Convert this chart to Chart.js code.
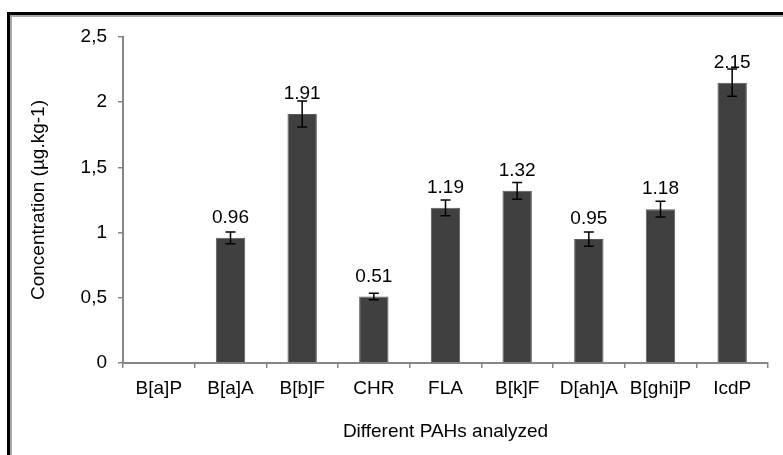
<!DOCTYPE html>
<html>
<head>
<meta charset="utf-8">
<script src="https://cdn.jsdelivr.net/npm/chart.js@4/dist/chart.umd.min.js"></script>
<style>
  html, body { margin: 0; padding: 0; background: #fff; overflow: hidden; }
  #wrap { position: relative; width: 783px; height: 455px; }
  /* cadre noir + gris, ouvert à droite et en bas */
  #frame {
    position: absolute; left: 7px; top: 12px; width: 900px; height: 600px;
    border-left: 3px solid #000; border-top: 3px solid #000;
  }
  #frame div {
    width: 100%; height: 100%;
    border-left: 2px solid #a8a8a8; border-top: 2px solid #a8a8a8;
  }
  canvas { position: absolute; left: 0; top: 0; }
</style>
</head>
<body>
<div id="wrap">
  <div id="frame"><div></div></div>
  <canvas id="myChart" width="783" height="455"></canvas>
</div>
<script>
// données
const categories = ["B[a]P", "B[a]A", "B[b]F", "CHR", "FLA", "B[k]F", "D[ah]A", "B[ghi]P", "IcdP"];
const concentrations = [0, 0.96, 1.91, 0.51, 1.19, 1.32, 0.95, 1.18, 2.15];
const errors = [0, 0.045, 0.1, 0.025, 0.06, 0.065, 0.055, 0.06, 0.105];
const valueLabels = ["", "0.96", "1.91", "0.51", "1.19", "1.32", "0.95", "1.18", "2.15"];
const yTickLabels = ["0", "0,5", "1", "1,5", "2", "2,5"];

const axisGrey = "#868686";
const font = { family: "'Liberation Sans', Arial, sans-serif", size: 19 };

// barres d'erreur + étiquettes de valeur
const errorBarsPlugin = {
  id: "errorBars",
  afterDatasetsDraw(chart) {
    const ctx = chart.ctx;
    const y = chart.scales.y;
    const meta = chart.getDatasetMeta(0);
    ctx.save();
    meta.data.forEach((bar, i) => {
      const v = concentrations[i];
      const e = errors[i];
      if (e > 0) {
        const top = y.getPixelForValue(v + e);
        const bottom = y.getPixelForValue(v - e);
        ctx.strokeStyle = "#000";
        ctx.lineWidth = 1.5;
        ctx.beginPath();
        ctx.moveTo(bar.x, top);
        ctx.lineTo(bar.x, bottom);
        ctx.moveTo(bar.x - 5, top);
        ctx.lineTo(bar.x + 5, top);
        ctx.moveTo(bar.x - 5, bottom);
        ctx.lineTo(bar.x + 5, bottom);
        ctx.stroke();
      }
      if (valueLabels[i]) {
        ctx.fillStyle = "#000";
        ctx.font = font.size + "px " + font.family;
        ctx.textAlign = "center";
        ctx.textBaseline = "middle";
        ctx.fillText(valueLabels[i], bar.x, bar.y - 20);
      }
    });
    ctx.restore();
  },
};

const chartData = {
  labels: categories,
  datasets: [
    {
      data: concentrations,
      backgroundColor: "#404040",
      borderColor: "#5a5a5a",
      borderWidth: 1,
      categoryPercentage: 1,
      barPercentage: 0.41,
    },
  ],
};

const chartOptions = {
  responsive: false,
  animation: false,
  layout: { padding: { left: 27, right: 15, top: 37, bottom: 12 } },
  plugins: {
    legend: { display: false },
    tooltip: { enabled: false },
  },
  scales: {
    x: {
      offset: true,
      grid: {
        display: true,
        offset: true,
        drawOnChartArea: false,
        drawTicks: true,
        tickLength: 5,
        color: axisGrey,
        lineWidth: 1.5,
      },
      border: { color: axisGrey, width: 2 },
      ticks: { color: "#000", font: font, padding: 9, maxRotation: 0, autoSkip: false },
      title: {
        display: true,
        text: "Different PAHs analyzed",
        color: "#000",
        font: font,
        padding: { top: 14, bottom: 0 },
      },
      afterFit(scale) { scale.height = 80; },
    },
    y: {
      min: 0,
      max: 2.5,
      grid: {
        display: true,
        drawOnChartArea: false,
        drawTicks: true,
        tickLength: 5,
        color: axisGrey,
        lineWidth: 1.5,
      },
      border: { color: axisGrey, width: 2 },
      ticks: {
        stepSize: 0.5,
        color: "#000",
        font: font,
        padding: 11,
        callback: (value, index) => yTickLabels[index],
      },
      title: {
        display: true,
        text: "Concentration (µg.kg-1)",
        color: "#000",
        font: font,
        padding: { top: 0, bottom: 0 },
      },
      afterFit(scale) { scale.width = 96; },
    },
  },
};

const ctx = document.getElementById("myChart").getContext("2d");
const myChart = new Chart(ctx, {
  type: "bar",
  data: chartData,
  options: chartOptions,
  plugins: [errorBarsPlugin],
});
</script>
</body>
</html>
